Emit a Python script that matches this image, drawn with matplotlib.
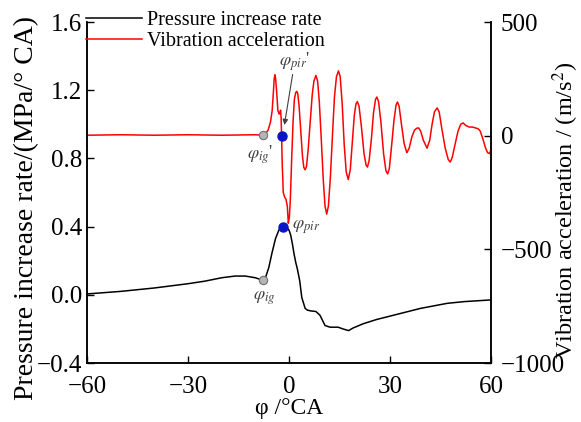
import matplotlib
matplotlib.use("Agg")
import matplotlib.pyplot as plt

plt.rcParams['font.family'] = ['Liberation Serif', 'DejaVu Serif']
plt.rcParams['mathtext.fontset'] = 'stix'

# crank angle (deg CA) and pressure increase rate (MPa/deg CA)
angle_p = [-60, -50, -40, -30, -25, -20, -16, -13, -10, -8.5, -7.7, -7, -6, -5, -4, -3,
           -1.9, -1, 0, 0.5, 1.0, 1.5, 2.0, 2.5, 3.2, 3.8, 4.8, 5.5, 6.3, 8.0, 9.2,
           10.7, 12.2, 14.6, 16, 17.7, 19, 22, 26, 30, 35, 39, 43, 47, 52, 56, 60]
pressure_rate = [0.005, 0.02, 0.04, 0.065, 0.08, 0.10, 0.11, 0.11, 0.10, 0.09, 0.088, 0.10,
                 0.16, 0.25, 0.33, 0.38, 0.40, 0.40, 0.38, 0.35, 0.30, 0.24, 0.19, 0.15,
                 0.08, -0.016, -0.08, -0.09, -0.094, -0.098, -0.12, -0.18, -0.19, -0.19,
                 -0.20, -0.21, -0.195, -0.17, -0.145, -0.125, -0.10, -0.08, -0.065, -0.05,
                 -0.04, -0.035, -0.03]

# crank angle (deg CA) and vibration acceleration (m/s^2)
angle_v = [-60, -50, -40, -30, -20, -10, -8, -7, -6.2, -5.5, -5.0, -4.6, -4.4, -4.2, -4.0,
           -3.7, -3.3, -2.9, -2.7, -2.5, -2.35, -2.2, -2.0, -1.7, -1.3, -0.9, -0.5, -0.2,
           0.1, 0.4, 0.8, 1.2, 1.6, 2.0, 2.3, 2.6, 3.0, 3.5, 4.0, 4.4, 4.8, 5.2, 5.7,
           6.3, 6.9, 7.4, 8.0, 8.5, 9.0, 9.6, 10.2, 10.7, 11.2, 11.7, 12.3, 12.9, 13.5,
           14.1, 14.7, 15.2, 15.8, 16.4, 17.0, 17.6, 18.2, 18.8, 19.4, 19.9, 20.3, 20.8,
           21.5, 22.3, 22.9, 23.3, 23.8, 24.5, 25.1, 25.7, 26.1, 26.6, 27.3, 28.1, 28.8,
           29.3, 29.8, 30.5, 31.2, 31.8, 32.2, 32.7, 33.4, 34.2, 35.0, 35.7, 36.5, 37.3,
           38.0, 38.5, 39.1, 39.9, 41.0, 41.8, 42.5, 43.2, 44.0, 44.6, 45.4, 46.4, 47.3,
           47.9, 48.5, 49.3, 50.2, 51.0, 51.7, 52.5, 53.5, 54.5, 55.4, 56.2, 56.8, 57.6,
           58.4, 59.0, 59.6, 60]
vibration = [2, 4, 2, 4, 2, 4, 2, 8, 25, 60, 110, 200, 250, 268, 255,
             200, 110, 95, 100, 112, 80, 0, -130, -250, -270, -280, -310, -385,
             -360, -280, -100, 60, 160, 190, 195, 185, 130, 20, -90, -140, -150, -135, -60,
             60, 180, 240, 265, 240, 150, -20, -200, -310, -345, -310, -180, 0, 170,
             260, 285, 260, 140, -40, -160, -193, -150, -30, 90, 140, 150, 130,
             40, -80, -130, -138, -110, -10, 100, 160, 170, 150, 60, -80, -155,
             -168, -145, -40, 70, 135, 148, 130, 50, -35, -75, -55, -5, 25,
             33, 34, 20, -20, -55, -20, 50, 105, 122, 105, 30, -55, -105,
             -116, -95, -40, 20, 50, 56, 45, 38, 38, 34, 30, 20, -15,
             -55, -75, -79, -60]

# characteristic points
ig_angle, ig_rate = -7.7, 0.088
pir_angle, pir_rate = -1.9, 0.40
ig_angle_v, ig_vib = -7.7, 2
pir_angle_v, pir_vib = -2.2, 0

fig = plt.figure(figsize=(5.81, 4.22), dpi=100)
ax = fig.add_axes([87/581, 1 - 363/422, (491 - 87)/581, (363 - 22)/422])
ax2 = ax.twinx()

l1, = ax.plot(angle_p, pressure_rate, color='black', lw=1.1)
l2, = ax2.plot(angle_v, vibration, color='red', lw=1.1)

ax.plot(ig_angle, ig_rate, 'o', color='#b4b4b4', mec='#707070', mew=0.8, ms=6, zorder=5)
ax2.plot(ig_angle_v, ig_vib, 'o', color='#b4b4b4', mec='#707070', mew=0.8, ms=6, zorder=5)
ax2.plot(pir_angle_v, pir_vib, 'o', color='#0a14c8', ms=6.5, zorder=6)
# blue peak point on the pressure curve, drawn on the top axes so it sits over the red line
ax2.plot(pir_angle, (pir_rate - 1.6) / 2.0 * 1500 + 500, 'o', color='#0a14c8', ms=6.5,
         zorder=6)

lab = dict(color='#404040', fontsize=13)
ax.text(-7.4, -0.018, r'$\varphi_{ig}$', ha='center', va='center', **lab)
ax.text(0.9, 0.395, r'$\varphi_{pir}$', ha='left', va='center', **lab)
ax2.text(-8.6, -84, r"$\varphi_{ig}$'", ha='center', va='center', **lab)
ax2.text(1.8, 325, r"$\varphi_{pir}$'", ha='center', va='center', **lab)
ax2.annotate('', xy=(-1.5, 35), xytext=(1.2, 281),
             arrowprops=dict(arrowstyle='-|>', color='#404040', lw=0.8, mutation_scale=8))

ax.set_xlim(-60, 60)
ax.set_ylim(-0.4, 1.6)
ax2.set_ylim(-1000, 500)
ax.set_xticks([-60, -30, 0, 30, 60])
ax.set_yticks([-0.4, 0.0, 0.4, 0.8, 1.2, 1.6])
ax.set_yticklabels(['\u22120.4', '0.0', '0.4', '0.8', '1.2', '1.6'])
ax2.set_yticks([-1000, -500, 0, 500])

for a in (ax, ax2):
    a.spines['top'].set_visible(False)
    a.tick_params(direction='in', length=5, width=1, labelsize=18)
    for s in a.spines.values():
        s.set_linewidth(1.1)
ax.tick_params(axis='x', pad=9.5)
ax2.tick_params(axis='y', pad=7)

ax.set_xlabel('φ /°CA', fontsize=17, labelpad=0)
fig.text(27/581, 1 - 208/422, 'Pressure increase rate/(MPa/° CA)', fontsize=20,
         rotation=90, ha='center', va='center')
fig.text(566/581, 1 - 210/422, 'Vibration acceleration / (m/s$^2$)', fontsize=17.5,
         rotation=90, ha='center', va='center')

fig.legend([l1, l2], ['Pressure increase rate', 'Vibration acceleration'],
           loc='upper left', bbox_to_anchor=(86/581, 1 - 11/422), frameon=False,
           fontsize=14.5, handlelength=2.8, handletextpad=0.25, labelspacing=0.1,
           borderpad=0, borderaxespad=0)

fig.savefig('out.png', dpi=100)
